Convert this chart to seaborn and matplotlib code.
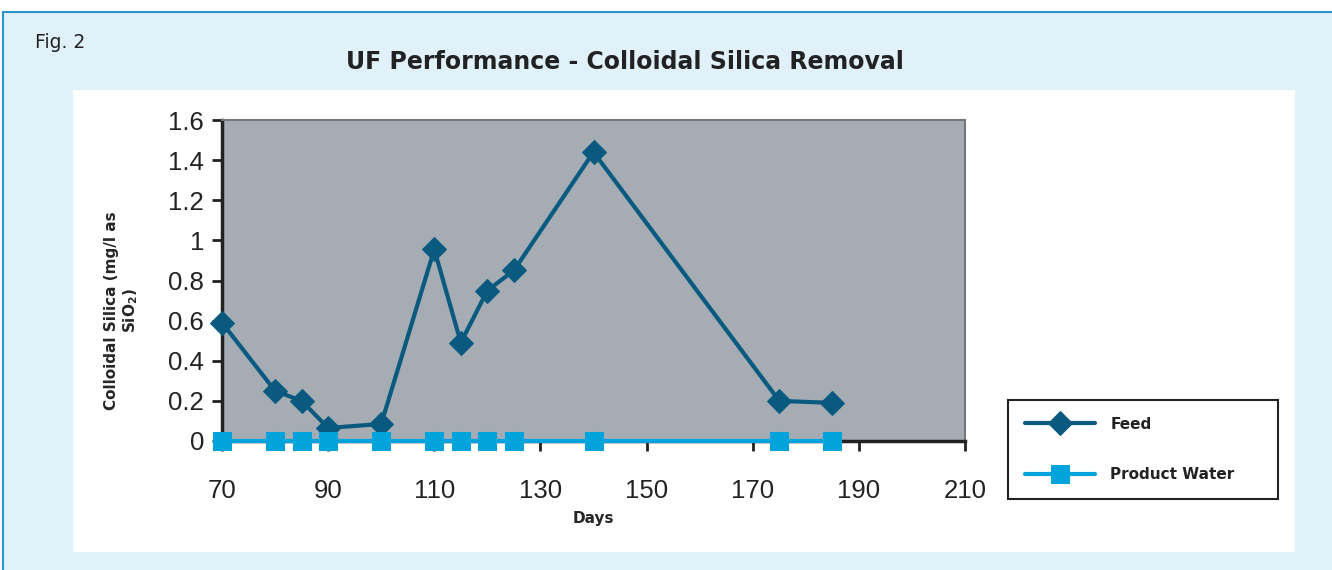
import numpy as np
import pandas as pd
import matplotlib.pyplot as plt
import matplotlib.patches as mpatches
import matplotlib.lines as mlines
import seaborn as sns

# data
days = [70, 80, 85, 90, 100, 110, 115, 120, 125, 140, 175, 185]
feed = [0.59, 0.25, 0.20, 0.065, 0.085, 0.955, 0.49, 0.75, 0.85, 1.44, 0.20, 0.19]
product_water = [0, 0, 0, 0, 0, 0, 0, 0, 0, 0, 0, 0]
x_ticks = [70, 90, 110, 130, 150, 170, 190, 210]
y_ticks = [0, 0.2, 0.4, 0.6, 0.8, 1.0, 1.2, 1.4, 1.6]
y_ticklabels = ["0", "0.2", "0.4", "0.6", "0.8", "1", "1.2", "1.4", "1.6"]

FEED_COLOR = "#0a5a80"
PRODUCT_COLOR = "#00a3dc"
PLOT_BG = "#a5acb3"
OUTER_BG = "#e1f1fa"
BORDER = "#2a93cc"

sns.set_theme(style="white")
plt.rcParams["font.family"] = ["DejaVu Sans"]

W, H = 1332, 570
fig = plt.figure(figsize=(W / 100, H / 100), dpi=100)
fig.patch.set_facecolor("white")

# outer light blue card + border lines
fig.add_artist(mpatches.Rectangle((3 / W, 0), 1, 1 - 12 / H, transform=fig.transFigure,
                                  facecolor=OUTER_BG, edgecolor="none", zorder=-3))
fig.add_artist(mlines.Line2D([3 / W, 1], [1 - 12 / H, 1 - 12 / H], transform=fig.transFigure,
                             color=BORDER, lw=1.5, zorder=-1))
fig.add_artist(mlines.Line2D([3 / W, 3 / W], [0, 1 - 12 / H], transform=fig.transFigure,
                             color=BORDER, lw=1.5, zorder=-1))
# white chart panel
fig.add_artist(mpatches.Rectangle((73 / W, 1 - 552 / H), (1295 - 73) / W, (552 - 90) / H,
                                  transform=fig.transFigure, facecolor="white",
                                  edgecolor="none", zorder=-2))

fig.text(35 / W, 1 - 42 / H, "Fig. 2", fontsize=13.5, va="center", ha="left", color="#222222")
fig.text(625 / W, 1 - 62 / H, "UF Performance - Colloidal Silica Removal", fontsize=17,
         fontweight="bold", va="center", ha="center", color="#222222")

ax = fig.add_axes([222 / W, 1 - 441 / H, (965 - 222) / W, (441 - 120) / H])
ax.set_facecolor(PLOT_BG)

sns.lineplot(x=days, y=feed, ax=ax, color=FEED_COLOR, lw=3, marker="D", markersize=12,
             markeredgecolor=FEED_COLOR, label="Feed", clip_on=False, zorder=3)
sns.lineplot(x=days, y=product_water, ax=ax, color=PRODUCT_COLOR, lw=3, marker="s",
             markersize=13, markeredgecolor=PRODUCT_COLOR, label="Product Water",
             clip_on=False, zorder=4)

ax.set_xlim(70, 210)
ax.set_ylim(0, 1.6)
ax.set_xticks(x_ticks)
ax.set_yticks(y_ticks)
ax.set_yticklabels(y_ticklabels)
for lab in ax.get_xticklabels() + ax.get_yticklabels():
    lab.set_family("Liberation Sans")
    lab.set_fontsize(18.5)
    lab.set_color("#222222")
ax.tick_params(axis="both", direction="out", length=7, width=2, color="#222222",
               left=True, bottom=True, pad=6)
ax.tick_params(axis="x", pad=20)

for side in ["top", "right"]:
    ax.spines[side].set_color("#777777")
    ax.spines[side].set_linewidth(1.5)
for side in ["left", "bottom"]:
    ax.spines[side].set_color("#222222")
    ax.spines[side].set_linewidth(2.5)

ax.set_xlabel("Days", fontsize=11, fontweight="bold", labelpad=6)
ax.set_ylabel("Colloidal Silica (mg/l as\nSiO$_\\mathbf{2}$)", fontsize=11,
              fontweight="bold")
ax.yaxis.set_label_coords(-0.110, 0.405)

handles, labels = ax.get_legend_handles_labels()
ax.legend_.remove()
leg = fig.legend(handles, labels, loc="upper left",
                 bbox_to_anchor=(1008 / W, 1 - 497 / H, 270 / W, 97 / H), mode="expand",
                 frameon=True, fancybox=False,
                 edgecolor="#222222", facecolor="white", framealpha=1,
                 prop={"weight": "bold", "size": 11}, handlelength=4.6,
                 borderpad=1.1, labelspacing=2.3, handletextpad=1.0, borderaxespad=0)
leg.get_frame().set_linewidth(1.5)
for t in leg.get_texts():
    t.set_color("#222222")

fig.savefig("out.png", dpi=100, facecolor=fig.get_facecolor())
